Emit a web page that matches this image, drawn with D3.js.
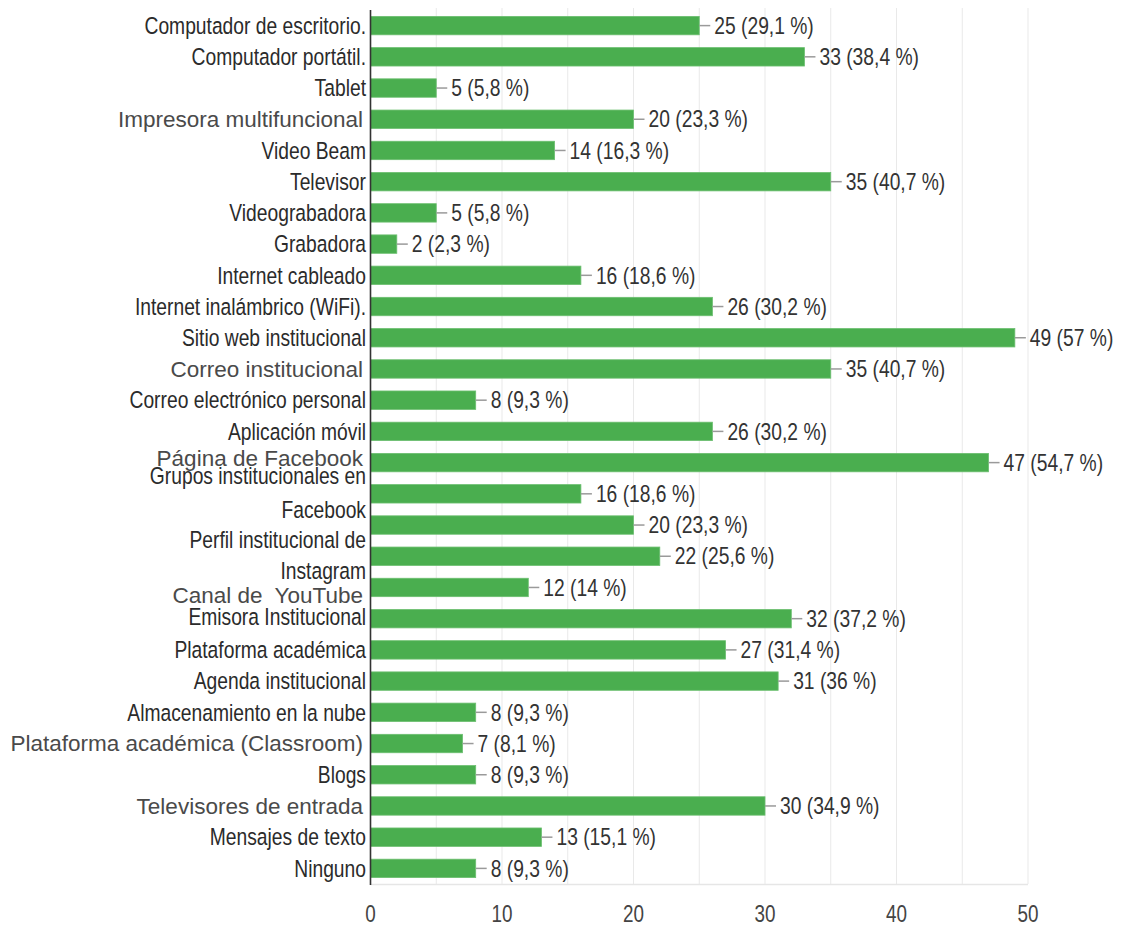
<!DOCTYPE html>
<html><head><meta charset="utf-8">
<script src="https://cdn.jsdelivr.net/npm/d3@7"></script>
<style>body{margin:0;background:#fff}</style>
</head><body>
<svg id="c" width="1122" height="926"></svg>
<script>
const values = [25,33,5,20,14,35,5,2,16,26,49,35,8,26,47,16,20,22,12,32,27,31,8,7,8,30,13,8];
const percents = ["29,1","38,4","5,8","23,3","16,3","40,7","5,8","2,3","18,6","30,2","57","40,7","9,3","30,2","54,7","18,6","23,3","25,6","14","37,2","31,4","36","9,3","8,1","9,3","34,9","15,1","9,3"];
const labelTexts = ["Computador de escritorio.","Computador portátil.","Tablet","Impresora multifuncional","Video Beam","Televisor","Videograbadora","Grabadora","Internet cableado","Internet inalámbrico (WiFi).","Sitio web institucional","Correo institucional","Correo electrónico personal","Aplicación móvil","Página de Facebook","Grupos institucionales en","Facebook","Perfil institucional de","Instagram","Canal de  YouTube","Emisora Institucional","Plataforma académica","Agenda institucional","Almacenamiento en la nube","Plataforma académica (Classroom)","Blogs","Televisores de entrada","Mensajes de texto","Ninguno"];
const labelRows = [0,1,2,3,4,5,6,7,8,9,10,11,12,13,13.86,14.43,15.5,16.47,17.48,18.26,18.95,20,21,22,23,24,25,26,27];
const plainLabels = ["Impresora multifuncional","Correo institucional","Página de Facebook","Canal de  YouTube","Plataforma académica (Classroom)","Televisores de entrada"];
const xTicks = [0,10,20,30,40,50];
const gridTicks = [5,10,15,20,25,30,35,40,45,50];

(function(){
const svg = d3.select("#c");
const pL = 370.5, pR = 1028, pT = 10, pB = 884;
const x = d3.scaleLinear().domain([0,50]).range([pL,pR]);
const y = d3.scaleBand().domain(d3.range(values.length)).range([pT,pB]).paddingInner(0.41).paddingOuter(0.205);
const rowY = d3.scaleLinear().domain([-0.5, values.length-0.5]).range([pT,pB]);

const NARROW = "'Liberation Sans', Arial, sans-serif";
const squeeze = 0.82;

function narrowText(g, px, py, txt, anchor, size, color){
  const gg = g.append("g").attr("transform",`translate(${px},${py}) scale(${squeeze},1)`);
  return gg.append("text").attr("x",0).attr("y",0).attr("dy","0.35em")
    .attr("text-anchor",anchor).attr("font-family",NARROW).attr("font-size",size)
    .attr("fill",color).text(txt);
}

// grid
svg.append("g").selectAll("line").data(gridTicks).join("line")
  .attr("x1",d=>x(d)).attr("x2",d=>x(d)).attr("y1",pT-2).attr("y2",pB)
  .attr("stroke","#e9e9e9").attr("stroke-width",1);
svg.append("line").attr("x1",pL).attr("x2",pR).attr("y1",pB+0.5).attr("y2",pB+0.5)
  .attr("stroke","#e6e6e6").attr("stroke-width",1.5);

// bars
svg.append("g").selectAll("rect").data(values).join("rect")
  .attr("x",x(0)).attr("y",(d,i)=>y(i)).attr("width",d=>x(d)-x(0)).attr("height",y.bandwidth())
  .attr("fill","#4aae4f").attr("stroke","#6cbf70").attr("stroke-width",0.8);

// connectors and value labels
const vg = svg.append("g");
values.forEach((v,i)=>{
  const cy = y(i)+y.bandwidth()/2;
  vg.append("line").attr("x1",x(v)).attr("x2",x(v)+11).attr("y1",cy).attr("y2",cy)
    .attr("stroke","#9a9a9a").attr("stroke-width",1.5);
  narrowText(vg, x(v)+15, cy, `${v} (${percents[i]} %)`, "start", 23.5, "#333");
});

// axis line
svg.append("line").attr("x1",pL).attr("x2",pL).attr("y1",pT).attr("y2",pB+1)
  .attr("stroke","#333").attr("stroke-width",1.6);

// category labels
const lg = svg.append("g");
labelTexts.forEach((t,i)=>{
  const cy = rowY(labelRows[i]);
  if (plainLabels.includes(t)) {
    lg.append("text").attr("x",363).attr("y",cy).attr("dy","0.35em").attr("text-anchor","end")
      .attr("font-family","'Liberation Sans', Arial, sans-serif").attr("font-size",22.5)
      .attr("fill","#4a4a4a").style("white-space","pre").text(t);
  } else {
    narrowText(lg, 366, cy, t, "end", 23.5, "#2b2b2b");
  }
});

// x tick labels
const tg = svg.append("g");
xTicks.forEach(t=>{
  narrowText(tg, x(t), 914, String(t), "middle", 23, "#444");
});
})();
</script>
</body></html>
